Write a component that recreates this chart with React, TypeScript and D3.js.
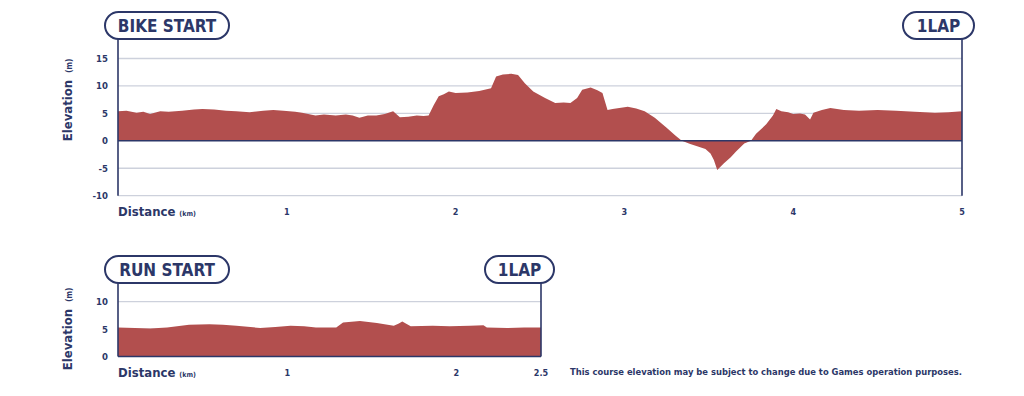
import React from "react";
import { scaleLinear, area } from "d3";

const navy = "#2c3768";
const fillRed = "#b24f4e";
const gridGray = "#cdd1dc";
const font = "'DejaVu Sans Condensed', 'DejaVu Sans', sans-serif";

// bike profile, km / metres
const bikeKm = [
  0, 0.05, 0.11, 0.15, 0.19, 0.25, 0.3, 0.38, 0.45, 0.5, 0.57, 0.64, 0.7, 0.78, 0.86, 0.92, 0.98,
  1.05, 1.09, 1.17, 1.22, 1.29, 1.35, 1.39, 1.43, 1.48, 1.53, 1.58, 1.63, 1.67, 1.72, 1.77, 1.81,
  1.84, 1.87, 1.9, 1.93, 1.96, 2.0, 2.07, 2.14, 2.21, 2.24, 2.28, 2.33, 2.37, 2.41, 2.46, 2.53,
  2.59, 2.64, 2.68, 2.72, 2.75, 2.8, 2.84, 2.87, 2.9, 2.93, 2.97, 3.02, 3.07, 3.12, 3.18, 3.25,
  3.3, 3.34, 3.39, 3.44, 3.48, 3.51, 3.53, 3.55, 3.59, 3.63, 3.66, 3.71, 3.75, 3.78, 3.84, 3.88,
  3.9, 3.93, 3.97, 4.0, 4.04, 4.07, 4.1, 4.12, 4.17, 4.22, 4.3, 4.39, 4.5, 4.61, 4.72, 4.84, 4.92, 5.0,
];
const bikeElev = [
  5.4, 5.5, 5.1, 5.3, 4.9, 5.4, 5.3, 5.5, 5.7, 5.8, 5.7, 5.5, 5.4, 5.2, 5.5, 5.6, 5.5,
  5.3, 5.1, 4.6, 4.8, 4.6, 4.8, 4.6, 4.2, 4.6, 4.6, 4.9, 5.4, 4.3, 4.4, 4.6, 4.5,
  4.6, 6.5, 8.1, 8.5, 9.0, 8.7, 8.8, 9.1, 9.6, 11.7, 12.1, 12.2, 12.0, 10.5, 9.0, 7.8,
  6.9, 7.0, 6.9, 7.8, 9.3, 9.7, 9.2, 8.7, 5.6, 5.8, 6.0, 6.2, 5.9, 5.4, 4.2, 2.4,
  1.0, 0.0, -0.6, -1.1, -1.5, -2.3, -3.5, -5.3, -4.1, -3.0, -2.0, -0.5, 0.0, 1.3, 3.0, 4.6,
  5.8, 5.4, 5.2, 4.9, 5.0, 4.8, 3.9, 5.1, 5.6, 6.0, 5.6, 5.5, 5.6, 5.5, 5.3, 5.1, 5.2, 5.4,
];

// run profile
const runKm = [
  0, 0.1, 0.19, 0.29, 0.42, 0.54, 0.62, 0.7, 0.84, 0.93, 1.02, 1.1, 1.17, 1.29, 1.33, 1.43,
  1.53, 1.63, 1.66, 1.68, 1.73, 1.86, 1.96, 2.08, 2.16, 2.18, 2.3, 2.4, 2.5,
];
const runElev = [
  5.3, 5.2, 5.1, 5.3, 5.8, 5.9, 5.8, 5.6, 5.2, 5.4, 5.6, 5.5, 5.3, 5.3, 6.2, 6.5,
  6.1, 5.6, 6.0, 6.4, 5.5, 5.6, 5.5, 5.6, 5.7, 5.3, 5.2, 5.3, 5.3,
];

const bikeYTicks = [15, 10, 5, 0, -5, -10];
const bikeXTicks = [1, 2, 3, 4, 5];
const runYTicks = [10, 5, 0];
const runXTicks = ["1", "2", "2.5"];

const footnote = "This course elevation may be subject to change due to Games operation purposes.";

type Pt = { km: number; m: number };

const Pill = ({ x, y, w, h, label }: { x: number; y: number; w: number; h: number; label: string }) => (
  <g>
    <rect x={x} y={y} width={w} height={h} rx={h / 2} fill="#fff" stroke={navy} strokeWidth={2} />
    <text
      x={x + w / 2}
      y={y + h / 2 + 6}
      textAnchor="middle"
      fontFamily={font}
      fontWeight="bold"
      fontSize={17}
      fill={navy}
    >
      {label}
    </text>
  </g>
);

const Profile = ({
  km,
  elev,
  xMax,
  yDomain,
  yTicks,
  xTicks,
  left,
  right,
  top,
  bottom,
  pillTop,
  lapPill,
  startLabel,
  labelCenter,
}: {
  km: number[];
  elev: number[];
  xMax: number;
  yDomain: [number, number];
  yTicks: number[];
  xTicks: (string | number)[];
  left: number;
  right: number;
  top: number;
  bottom: number;
  pillTop: number;
  lapPill: [number, number];
  startLabel: string;
  labelCenter: number;
}) => {
  const x = scaleLinear().domain([0, xMax]).range([left, right]);
  const y = scaleLinear().domain(yDomain).range([bottom, top]);
  const pts: Pt[] = km.map((k, i) => ({ km: k, m: elev[i] }));
  const elevArea = area<Pt>()
    .x((d) => x(d.km))
    .y0(y(0))
    .y1((d) => y(d.m));
  const pillH = 27;
  const labelY = bottom + 20;

  return (
    <g>
      {yTicks
        .filter((t) => t !== 0)
        .map((t) => (
          <line key={t} x1={left} x2={right} y1={y(t)} y2={y(t)} stroke={gridGray} strokeWidth={1.3} />
        ))}
      <path d={elevArea(pts) ?? ""} fill={fillRed} />
      <line x1={left} x2={right} y1={y(0)} y2={y(0)} stroke={navy} strokeWidth={1.4} />
      <line x1={left} x2={left} y1={pillTop + pillH} y2={bottom} stroke={navy} strokeWidth={1.6} />
      <line x1={right} x2={right} y1={pillTop + pillH} y2={bottom} stroke={navy} strokeWidth={1.6} />
      {yTicks.map((t) => (
        <text
          key={t}
          x={left - 10}
          y={y(t) + 3.5}
          textAnchor="end"
          fontFamily={font}
          fontWeight="bold"
          fontSize={9.5}
          fill={navy}
        >
          {t}
        </text>
      ))}
      <text
        transform={`translate(72, ${labelCenter}) rotate(-90)`}
        textAnchor="middle"
        fontFamily={font}
        fontWeight="bold"
        fill={navy}
      >
        <tspan fontSize={13}>Elevation</tspan>
        <tspan fontSize={8} dx={7}>(m)</tspan>
      </text>
      <text x={left} y={labelY} fontFamily={font} fontWeight="bold" fill={navy}>
        <tspan fontSize={13}>Distance</tspan>
        <tspan fontSize={7} dx={4}>(km)</tspan>
      </text>
      {xTicks.map((t) => (
        <text
          key={String(t)}
          x={x(Number(t))}
          y={labelY - 1}
          textAnchor="middle"
          fontFamily={font}
          fontWeight="bold"
          fontSize={9}
          fill={navy}
        >
          {t}
        </text>
      ))}
      <Pill x={105} y={pillTop} w={124} h={pillH} label={startLabel} />
      <Pill x={lapPill[0]} y={pillTop} w={lapPill[1] - lapPill[0]} h={pillH} label="1LAP" />
    </g>
  );
};

const App = () => (
  <svg
    width={1024}
    height={396}
    style={{ position: "absolute", left: 0, top: 0, background: "#fff" }}
  >
    <Profile
      km={bikeKm}
      elev={bikeElev}
      xMax={5}
      yDomain={[-10, 15]}
      yTicks={bikeYTicks}
      xTicks={bikeXTicks}
      left={118}
      right={962}
      top={58.5}
      bottom={195.7}
      pillTop={12}
      lapPill={[903, 974]}
      startLabel="BIKE START"
      labelCenter={100}
    />
    <Profile
      km={runKm}
      elev={runElev}
      xMax={2.5}
      yDomain={[0, 10]}
      yTicks={runYTicks}
      xTicks={runXTicks}
      left={118}
      right={541}
      top={301.7}
      bottom={356.5}
      pillTop={256}
      lapPill={[485, 554]}
      startLabel="RUN START"
      labelCenter={329}
    />
    <text
      x={570}
      y={375}
      fontFamily={font}
      fontWeight="bold"
      fontSize={8.6}
      fill={navy}
      textLength={392}
      lengthAdjust="spacingAndGlyphs"
    >
      {footnote}
    </text>
  </svg>
);

export default App;
